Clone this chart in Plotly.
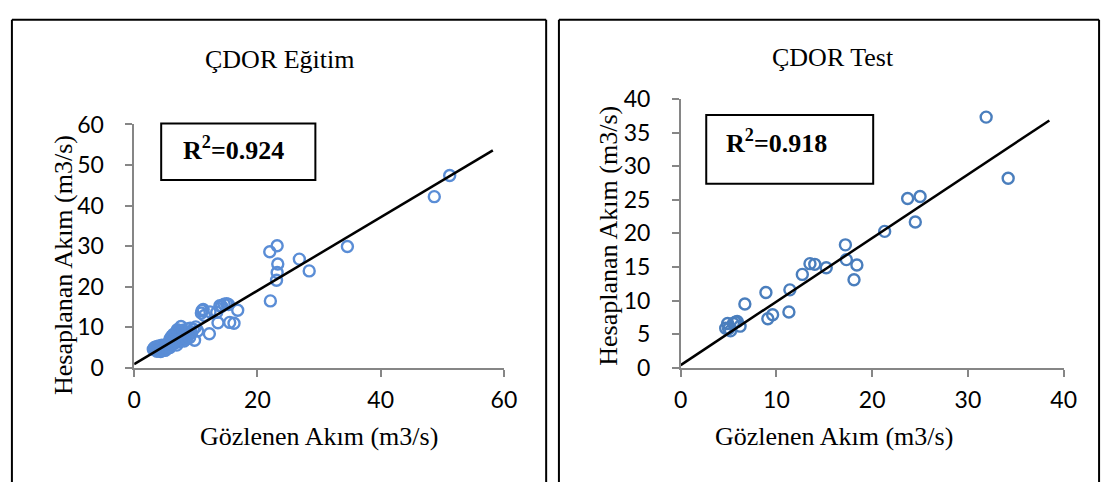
import plotly.graph_objects as go

# ---- data: observed vs. computed discharge (m3/s) ----
train_obs = [
    3.1, 3.3, 3.5, 3.6, 3.8, 3.9, 4.0, 4.1, 4.2, 4.3, 4.4, 4.5, 4.6, 4.7, 4.8, 4.9, 5.0, 5.1,
    5.2, 5.3, 5.4, 5.5, 5.6, 5.8, 3.4, 3.7, 4.3, 5.0,
    5.6, 5.8, 6.0, 6.1, 6.2, 6.3, 6.4, 6.5, 6.6, 6.7, 6.8, 6.9, 7.0, 7.1, 7.2, 7.3, 7.4, 7.5,
    7.6, 7.7, 7.8, 7.9, 8.0, 8.1, 8.2, 8.4, 8.5, 8.6, 8.8, 9.0, 9.1, 9.3, 9.6, 9.8, 10.0, 10.3,
    6.3, 7.0, 5.9,
    10.9, 11.2, 11.4, 11.0, 12.2, 12.3, 13.4, 13.6, 14.2, 14.6, 15.0, 15.3, 15.5, 16.2, 16.8, 13.9,
    22.1, 22.0, 23.2, 23.3, 23.2, 23.1, 26.8, 28.4, 34.6, 48.7, 51.2,
]
train_calc = [
    4.6, 5.0, 4.4, 5.2, 4.8, 4.3, 5.4, 4.9, 4.5, 5.1, 4.2, 5.6, 4.7, 5.0, 4.4, 5.3, 4.8, 5.5,
    4.6, 5.1, 5.8, 4.9, 5.4, 5.0, 4.9, 4.1, 4.0, 4.3,
    6.2, 7.1, 6.6, 7.8, 5.8, 7.3, 8.3, 6.9, 6.1, 7.6, 8.6, 5.6, 7.1, 8.0, 9.0, 6.4, 7.7, 8.6,
    10.2, 6.9, 7.4, 9.3, 8.1, 6.6, 7.8, 8.8, 7.2, 9.6, 8.2, 7.5, 9.8, 8.6, 9.5, 6.8, 10.1, 9.1,
    6.3, 9.4, 5.9,
    13.5, 14.4, 12.9, 14.1, 8.4, 13.8, 13.7, 11.1, 15.2, 15.7, 15.8, 15.6, 11.2, 11.0, 14.2, 15.3,
    16.5, 28.6, 30.1, 25.6, 23.5, 21.6, 26.8, 23.9, 29.9, 42.2, 47.4,
]

test_obs = [
    21.3, 17.2, 17.3, 18.4, 18.1, 15.2, 14.0, 13.5, 12.7, 11.4, 11.3, 8.9, 9.1, 9.6, 6.7,
    6.2, 5.9, 5.5, 5.2, 4.9, 4.7, 5.0, 5.7,
    31.9, 34.2, 23.7, 25.0, 24.5,
]
test_calc = [
    20.3, 18.3, 16.1, 15.3, 13.1, 14.9, 15.4, 15.5, 13.9, 11.6, 8.3, 11.2, 7.3, 7.9, 9.5,
    6.2, 6.9, 6.6, 5.5, 6.6, 5.9, 5.8, 6.8,
    37.3, 28.2, 25.2, 25.5, 21.7,
]

# linear fit lines (end points in data units)
train_fit_x = [0.0, 58.2]
train_fit_y = [0.9, 53.6]
test_fit_x = [0.0, 38.5]
test_fit_y = [0.4, 36.8]

r2_values = ["0.924", "0.918"]
panel_titles = ["ÇDOR Eğitim", "ÇDOR Test"]
x_title = "Gözlenen Akım (m3/s)"
y_title = "Hesaplanan Akım (m3/s)"

W, H = 1116, 495


def px(x):
    return x / W


def py(y):
    return 1 - y / H


SERIF = "Liberation Serif"
SANS = "Lato"
AXIS_GREY = "#868686"

fig = go.Figure()

fig.add_trace(go.Scatter(
    x=train_obs, y=train_calc, mode="markers", xaxis="x", yaxis="y",
    marker=dict(symbol="circle-open", size=11, color="#5a8dd6", line=dict(width=2.4)),
    showlegend=False, cliponaxis=False,
))
fig.add_trace(go.Scatter(
    x=train_fit_x, y=train_fit_y, mode="lines", xaxis="x", yaxis="y",
    line=dict(color="black", width=2.5), showlegend=False,
))
fig.add_trace(go.Scatter(
    x=test_obs, y=test_calc, mode="markers", xaxis="x2", yaxis="y2",
    marker=dict(symbol="circle-open", size=11, color="#4a7ebd", line=dict(width=2.4)),
    showlegend=False, cliponaxis=False,
))
fig.add_trace(go.Scatter(
    x=test_fit_x, y=test_fit_y, mode="lines", xaxis="x2", yaxis="y2",
    line=dict(color="black", width=2.5), showlegend=False,
))

axis_common = dict(
    showline=True, linecolor=AXIS_GREY, linewidth=1.5,
    ticks="outside", ticklen=7, tickwidth=1.5, tickcolor=AXIS_GREY,
    showgrid=False, zeroline=False,
    tickfont=dict(family=SANS, size=23, color="black"),
)

fig.update_layout(
    width=W, height=H,
    margin=dict(l=0, r=0, t=0, b=0),
    paper_bgcolor="white", plot_bgcolor="white",
    xaxis=dict(domain=[px(129.5), px(506)], range=[0, 60], dtick=20,
               anchor="y", ticklabelstandoff=4, **axis_common),
    yaxis=dict(domain=[py(374), py(116)], range=[0, 60], dtick=10,
               anchor="x", ticklabelstandoff=17, **axis_common),
    xaxis2=dict(domain=[px(686), px(1076)], range=[0, 40], dtick=10,
                anchor="y2", ticklabelstandoff=4, **axis_common),
    yaxis2=dict(domain=[py(374), py(89)], range=[0, 40], dtick=5,
                anchor="x2", ticklabelstandoff=17, **axis_common),
)

shapes = []
# panel frames: left, top and right edges, running down to the page bottom
for x0, x1 in [(5, 549), (562, 1112)]:
    for (ax, ay, bx, by) in [(x0, 5, x0, H), (x0, 5, x1, 5), (x1, 5, x1, H)]:
        shapes.append(dict(type="line", xref="paper", yref="paper",
                           x0=px(ax), y0=py(ay), x1=px(bx), y1=py(by),
                           line=dict(color="black", width=2)))
# R² boxes
for (x0, x1, y0, y1) in [(157, 314, 115, 175), (712, 882, 106, 179)]:
    shapes.append(dict(type="rect", xref="paper", yref="paper",
                       x0=px(x0), x1=px(x1), y0=py(y1), y1=py(y0),
                       line=dict(color="black", width=2), fillcolor="white", layer="below"))
fig.update_layout(shapes=shapes)

annotations = []
# panel titles
for title, (cx, cy) in zip(panel_titles, [(278, 47), (841, 45)]):
    annotations.append(dict(text=title, x=px(cx), y=py(cy), xref="paper", yref="paper",
                            showarrow=False, xanchor="center", yanchor="middle",
                            font=dict(family=SERIF, size=26, color="black")))
# axis titles
for cx in (318, 842):
    annotations.append(dict(text=x_title, x=px(cx), y=py(447), xref="paper", yref="paper",
                            showarrow=False, xanchor="center", yanchor="middle",
                            font=dict(family=SERIF, size=26, color="black")))
for (cx, cy) in [(57, 265), (613, 234)]:
    annotations.append(dict(text=y_title, x=px(cx), y=py(cy), xref="paper", yref="paper",
                            showarrow=False, xanchor="center", yanchor="middle", textangle=-90,
                            font=dict(family=SERIF, size=26, color="black")))
# R² labels
for r2, (lx, ly) in zip(r2_values, [(177, 142), (730, 134)]):
    annotations.append(dict(text=f"<b>R<sup>2</sup>=" + r2 + "</b>", x=px(lx), y=py(ly),
                            xref="paper", yref="paper", showarrow=False,
                            xanchor="left", yanchor="middle",
                            font=dict(family=SERIF, size=26, color="black")))
fig.update_layout(annotations=annotations)

fig.write_html("out.html")
